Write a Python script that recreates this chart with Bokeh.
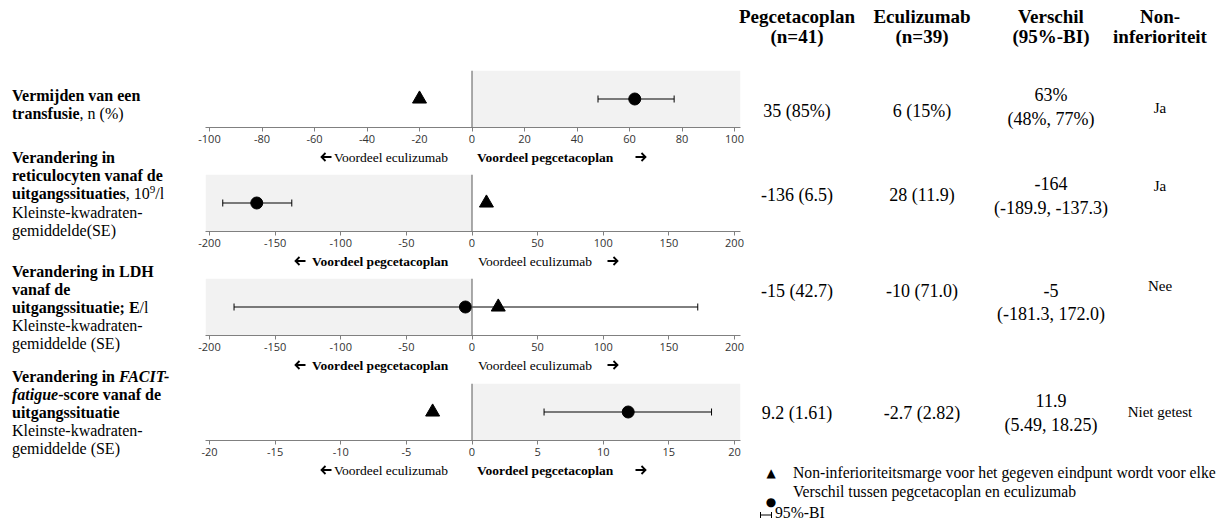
from math import pi
from bokeh.plotting import figure
from bokeh.layouts import row, column
from bokeh.models import Div, Range1d, FixedTicker, Span
from bokeh.embed import file_html
from bokeh.resources import INLINE

# ---------------- data ----------------
endpoint_labels = [
    "<b>Vermijden van een<br>transfusie</b>, n (%)",
    "<b>Verandering in<br>reticulocyten vanaf de<br>uitgangssituaties</b>, 10"
    "<span style=\"position:relative;top:-6px;font-size:11px\">9</span>/l<br>"
    "Kleinste-kwadraten-<br>gemiddelde(SE)",
    "<b>Verandering in LDH<br>vanaf de<br>uitgangssituatie; E</b>/l<br>"
    "Kleinste-kwadraten-<br>gemiddelde (SE)",
    "<b>Verandering in <i>FACIT-<br>fatigue</i>-score vanaf de<br>uitgangssituatie</b><br>"
    "Kleinste-kwadraten-<br>gemiddelde (SE)",
]
column_headers = [["Pegcetacoplan", "(n=41)"], ["Eculizumab", "(n=39)"],
                  ["Verschil", "(95%-BI)"], ["Non-", "inferioriteit"]]
pegcetacoplan_vals = ["35 (85%)", "-136 (6.5)", "-15 (42.7)", "9.2 (1.61)"]
eculizumab_vals = ["6 (15%)", "28 (11.9)", "-10 (71.0)", "-2.7 (2.82)"]
difference_text = ["63%", "-164", "-5", "11.9"]
difference_ci_text = ["(48%, 77%)", "(-189.9, -137.3)", "(-181.3, 172.0)", "(5.49, 18.25)"]
non_inferiority = ["Ja", "Ja", "Nee", "Niet getest"]

diff_estimate = [62, -164, -5, 11.9]
ci_low = [48, -189.9, -181.3, 5.49]
ci_high = [77, -137.3, 172.0, 18.25]
ni_margin = [-20, 11, 20, -3]

ticks_transfusion = [-100, -80, -60, -40, -20, 0, 20, 40, 60, 80, 100]
ticks_reticulocytes = [-200, -150, -100, -50, 0, 50, 100, 150, 200]
ticks_ldh = [-200, -150, -100, -50, 0, 50, 100, 150, 200]
ticks_facit = [-20, -15, -10, -5, 0, 5, 10, 15, 20]
tick_sets = [ticks_transfusion, ticks_reticulocytes, ticks_ldh, ticks_facit]

favour_left = ["Voordeel eculizumab", "Voordeel pegcetacoplan",
               "Voordeel pegcetacoplan", "Voordeel eculizumab"]
favour_right = ["Voordeel pegcetacoplan", "Voordeel eculizumab",
                "Voordeel eculizumab", "Voordeel pegcetacoplan"]
shaded_side = ["right", "left", "left", "right"]

legend_texts = ["Non-inferioriteitsmarge voor het gegeven eindpunt wordt voor elke",
                "Verschil tussen pegcetacoplan en eculizumab",
                "95%-BI"]

# ---------------- layout constants ----------------
SERIF = "'Liberation Serif'"
FRAME_W, FRAME_H = 535, 57
BORDER_L, BORDER_R, BORDER_B = 20, 6, 22
border_tops = [70, 5, 5, 6]
MID_W = BORDER_L + FRAME_W + BORDER_R
LABEL_DIV_H = 20

ARROW_L = ('<svg width="12" height="10" style="display:block">'
           '<path d="M11.5 5 H1.5 M5.5 1 L1.5 5 L5.5 9" stroke="#000" stroke-width="1.8" '
           'fill="none" stroke-linecap="butt"/></svg>')
ARROW_R = ('<svg width="12" height="10" style="display:block">'
           '<path d="M0.5 5 H10.5 M6.5 1 L10.5 5 L6.5 9" stroke="#000" stroke-width="1.8" '
           'fill="none" stroke-linecap="butt"/></svg>')


def txt(x, y, html, size, weight="normal", align="center", font=SERIF, lh=None, style=""):
    h = lh or round(size * 1.25)
    if align == "center":
        left, w, ta = x - 160, 320, "center"
    else:
        left, w, ta = x, 470, "left"
    return (f'<div style="position:absolute;left:{left}px;top:{y - h / 2}px;width:{w}px;'
            f'height:{h}px;line-height:{h}px;text-align:{ta};font-size:{size}px;'
            f'font-weight:{weight};font-family:{font};white-space:nowrap;color:#000;{style}">'
            f'{html}</div>')


def icon(xc, yc, svg, w=12, h=10):
    return (f'<div style="position:absolute;left:{xc - w / 2}px;top:{yc - h / 2}px;'
            f'width:{w}px;height:{h}px">{svg}</div>')


def make_panel(i):
    t = tick_sets[i]
    upp = (t[-1] - t[0]) / 525.0
    xr = Range1d(t[0] - 4 * upp, t[-1] + 6 * upp)
    p = figure(width=MID_W, height=border_tops[i] + FRAME_H + BORDER_B,
               x_range=xr, y_range=Range1d(0, 1),
               output_backend="svg", toolbar_location=None, title_location=None,
               y_axis_location=None,
               min_border_left=BORDER_L, min_border_right=BORDER_R,
               min_border_top=border_tops[i], min_border_bottom=BORDER_B)
    p.xgrid.visible = False
    p.ygrid.visible = False
    p.outline_line_color = None
    p.background_fill_color = "white"
    p.border_fill_color = "white"

    if shaded_side[i] == "right":
        sl, sr = 0, xr.end
    else:
        sl, sr = xr.start, 0
    p.quad(left=[sl], right=[sr], bottom=[0], top=[1],
           fill_color="#f2f2f2", line_color=None)
    p.add_layout(Span(location=0, dimension="height", line_color="#595959", line_width=1))

    p.segment(x0=[ci_low[i]], y0=[0.5], x1=[ci_high[i]], y1=[0.5],
              line_color="black", line_width=1)
    p.scatter(x=[ci_low[i], ci_high[i]], y=[0.5, 0.5], marker="dash", angle=pi / 2,
              size=7, line_color="black", line_width=1)
    p.scatter(x=[diff_estimate[i]], y=[0.5], marker="circle", size=12,
              fill_color="black", line_color="black")
    p.scatter(x=[ni_margin[i]], y=[0.5], marker="triangle", size=14,
              fill_color="black", line_color="black")

    ax = p.xaxis[0]
    ax.ticker = FixedTicker(ticks=t)
    ax.major_label_overrides = {v: str(v) for v in t}
    ax.major_label_text_font = "Open Sans"
    ax.major_label_text_font_size = "11px"
    ax.major_label_text_color = "#333333"
    ax.axis_line_color = "#808080"
    ax.major_tick_line_color = "#808080"
    ax.major_tick_in = 0
    ax.major_tick_out = 4
    ax.minor_tick_line_color = None
    ax.major_label_standoff = 3
    return p


def favour_div(i):
    if shaded_side[i] == "right":
        al, tl, tr, ar = 141, 149, 292, 456
    else:
        al, tl, tr, ar = 115, 127, 293, 428
    yc = 8
    wl = "bold" if "pegcetacoplan" in favour_left[i] else "normal"
    wr = "bold" if "pegcetacoplan" in favour_right[i] else "normal"
    html = (f'<div style="position:relative;width:{MID_W}px;height:{LABEL_DIV_H}px">'
            + icon(al, yc, ARROW_L)
            + txt(tl, yc, favour_left[i], 13.5, wl, align="left")
            + txt(tr, yc, favour_right[i], 13.5, wr, align="left")
            + icon(ar, yc, ARROW_R)
            + '</div>')
    return Div(text=html, width=MID_W, height=LABEL_DIV_H, margin=0)


# ---------------- left labels ----------------
LEFT_W = 185
label_tops = [87, 149, 263, 368]
left_html = (f'<div style="position:relative;width:{LEFT_W}px;height:482px;'
             f'font-family:{SERIF};font-size:16px;line-height:18px;color:#000">')
for lab, tp in zip(endpoint_labels, label_tops):
    left_html += (f'<div style="position:absolute;left:12px;top:{tp}px;'
                  f'white-space:nowrap">{lab}</div>')
left_html += '</div>'
left_div = Div(text=left_html, width=LEFT_W, height=482, margin=0)

# ---------------- middle panels ----------------
mid_items = []
for i in range(4):
    mid_items.append(make_panel(i))
    mid_items.append(favour_div(i))
mid_col = column(*mid_items, spacing=0)

# ---------------- right table ----------------
RIGHT_W = 476
col_x = [51, 176, 305, 414]
header_y = [17, 37]
value_y = [111, 195, 291, 413]
diff_y1 = [95, 184, 291, 401]
diff_y2 = [119, 208, 314, 425]
ni_y = [108, 186, 286, 412]

rhtml = f'<div style="position:relative;width:{RIGHT_W}px;height:526px">'
for c, hdr in enumerate(column_headers):
    for k, line in enumerate(hdr):
        rhtml += txt(col_x[c], header_y[k], line, 19, "bold", lh=20)
for r in range(4):
    rhtml += txt(col_x[0], value_y[r], pegcetacoplan_vals[r], 18)
    rhtml += txt(col_x[1], value_y[r], eculizumab_vals[r], 18)
    rhtml += txt(col_x[2], diff_y1[r], difference_text[r], 18)
    rhtml += txt(col_x[2], diff_y2[r], difference_ci_text[r], 18)
    rhtml += txt(col_x[3], ni_y[r], non_inferiority[r], 15)

# legend
rhtml += txt(25, 473, "&#9650;", 12, font="'DejaVu Sans'")
rhtml += txt(47, 473, legend_texts[0], 15.7, align="left")
rhtml += txt(25, 502, "&#9679;", 12, font="'DejaVu Sans'")
rhtml += txt(47, 492, legend_texts[1], 15.7, align="left")
rhtml += ('<svg style="position:absolute;left:14px;top:511px" width="12" height="8">'
          '<path d="M0.5 1 V7 M0.5 4 H11.5 M11.5 1 V7" stroke="#000" stroke-width="1" fill="none"/>'
          '</svg>')
rhtml += txt(29, 513, legend_texts[2], 15.7, align="left", lh=14)
rhtml += '</div>'
right_div = Div(text=rhtml, width=RIGHT_W, height=526, margin=0)

layout = row(left_div, mid_col, right_div, spacing=0)

open("out.html", "w").write(file_html(layout, INLINE, title="Forest plot"))
